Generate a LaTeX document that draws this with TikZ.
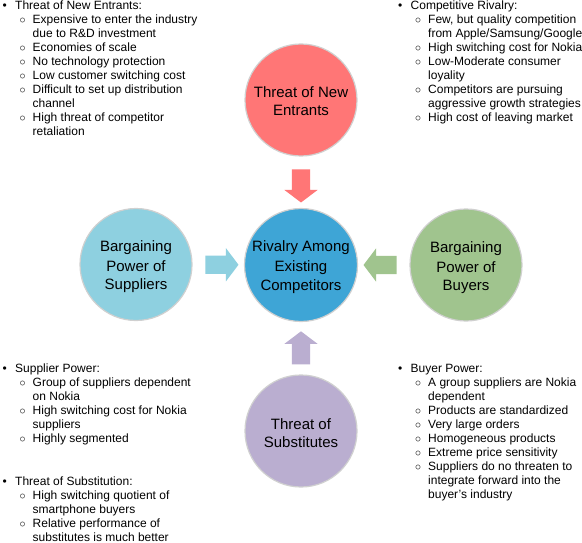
\documentclass[tikz,border=0pt]{standalone}
\usepackage{fontspec}
\setmainfont{Liberation Sans}
\usetikzlibrary{shapes.arrows,calc}
\definecolor{cred}{HTML}{FF7676}
\definecolor{cblue}{HTML}{3EA5D6}
\definecolor{clight}{HTML}{8ED0E0}
\definecolor{cgreen}{HTML}{A0C48E}
\definecolor{cpurple}{HTML}{BAAED0}
\definecolor{cborder}{HTML}{D0D0D0}
\newcommand\TopItem[1]{\par\noindent\llap{\makebox[12.5pt][l]{\textbullet}}#1}
\newcommand\SubItem[1]{\par\noindent\hspace*{4.5pt}\makebox[13pt][l]{$\circ$}#1}
\newcommand\ContLine[1]{\par\noindent\hspace*{17.5pt}#1}
\newcommand\cs{\rule[-1.5pt]{0pt}{17pt}}
\tikzset{
  force/.style={circle, minimum size=112pt, inner sep=0pt, draw=cborder, line width=1.2pt,
    align=center, font=\fontsize{15pt}{18pt}\selectfont},
  blockarrow/.style={single arrow, minimum height=33pt, minimum width=33pt,
    single arrow head extend=7.5pt, single arrow tip angle=106,
    inner xsep=0pt, inner ysep=9pt, draw=none},
  listblock/.style={anchor=base west, inner sep=0pt, font=\fontsize{12pt}{14pt}\selectfont}
}
\begin{document}
\begin{tikzpicture}[x=1pt,y=-1pt]
\fill[white] (0,0) rectangle (582,543);
\useasboundingbox (0,0) rectangle (582,543);

\node[force, fill=cblue] (center) at (301,265) {\cs Rivalry Among\\\cs Existing\\\cs Competitors};
\node[force, fill=cred] (top) at (301,100) {\cs Threat of New\\\cs Entrants};
\node[force, fill=clight] (left) at (136,264.5) {\cs Bargaining\\\cs Power of\\\cs Suppliers};
\node[force, fill=cgreen] (right) at (466,265) {\cs Bargaining\\\cs Power of\\\cs Buyers};
\node[force, fill=cpurple] (bottom) at (301,431) {\cs Threat of\\\cs Substitutes};

\node[blockarrow, fill=cred, rotate=-90] (atop) at ($(top)!0.5!(center)$) {};
\node[blockarrow, fill=clight] (aleft) at ($(left)!0.5!(center)$) {};
\node[blockarrow, fill=cgreen, rotate=180] (aright) at ($(right)!0.5!(center)$) {};
\node[blockarrow, fill=cpurple, rotate=90] (abottom) at ($(bottom)!0.48!(center)$) {};

\node[listblock] (ne) at (15,9.5) {\begin{minipage}[t]{220pt}
\TopItem{Threat of New Entrants:}
\SubItem{Expensive to enter the industry}
\ContLine{due to R\&D investment}
\SubItem{Economies of scale}
\SubItem{No technology protection}
\SubItem{Low customer switching cost}
\SubItem{Difficult to set up distribution}
\ContLine{channel}
\SubItem{High threat of competitor}
\ContLine{retaliation}
\end{minipage}};

\node[listblock] (cr) at (410.5,9.5) {\begin{minipage}[t]{200pt}
\TopItem{Competitive Rivalry:}
\SubItem{Few, but quality competition}
\ContLine{from Apple/Samsung/Google}
\SubItem{High switching cost for Nokia}
\SubItem{Low-Moderate consumer}
\ContLine{loyality}
\SubItem{Competitors are pursuing}
\ContLine{aggressive growth strategies}
\SubItem{High cost of leaving market}
\end{minipage}};

\node[listblock] (sp) at (15,372.5) {\begin{minipage}[t]{220pt}
\TopItem{Supplier Power:}
\SubItem{Group of suppliers dependent}
\ContLine{on Nokia}
\SubItem{High switching cost for Nokia}
\ContLine{suppliers}
\SubItem{Highly segmented}
\end{minipage}};

\node[listblock] (ts) at (15,485) {\begin{minipage}[t]{220pt}
\TopItem{Threat of Substitution:}
\SubItem{High switching quotient of}
\ContLine{smartphone buyers}
\SubItem{Relative performance of}
\ContLine{substitutes is much better}
\end{minipage}};

\node[listblock] (bp) at (410.5,372.5) {\begin{minipage}[t]{200pt}
\TopItem{Buyer Power:}
\SubItem{A group suppliers are Nokia}
\ContLine{dependent}
\SubItem{Products are standardized}
\SubItem{Very large orders}
\SubItem{Homogeneous products}
\SubItem{Extreme price sensitivity}
\SubItem{Suppliers do no threaten to}
\ContLine{integrate forward into the}
\ContLine{buyer's industry}
\end{minipage}};
\end{tikzpicture}
\end{document}
